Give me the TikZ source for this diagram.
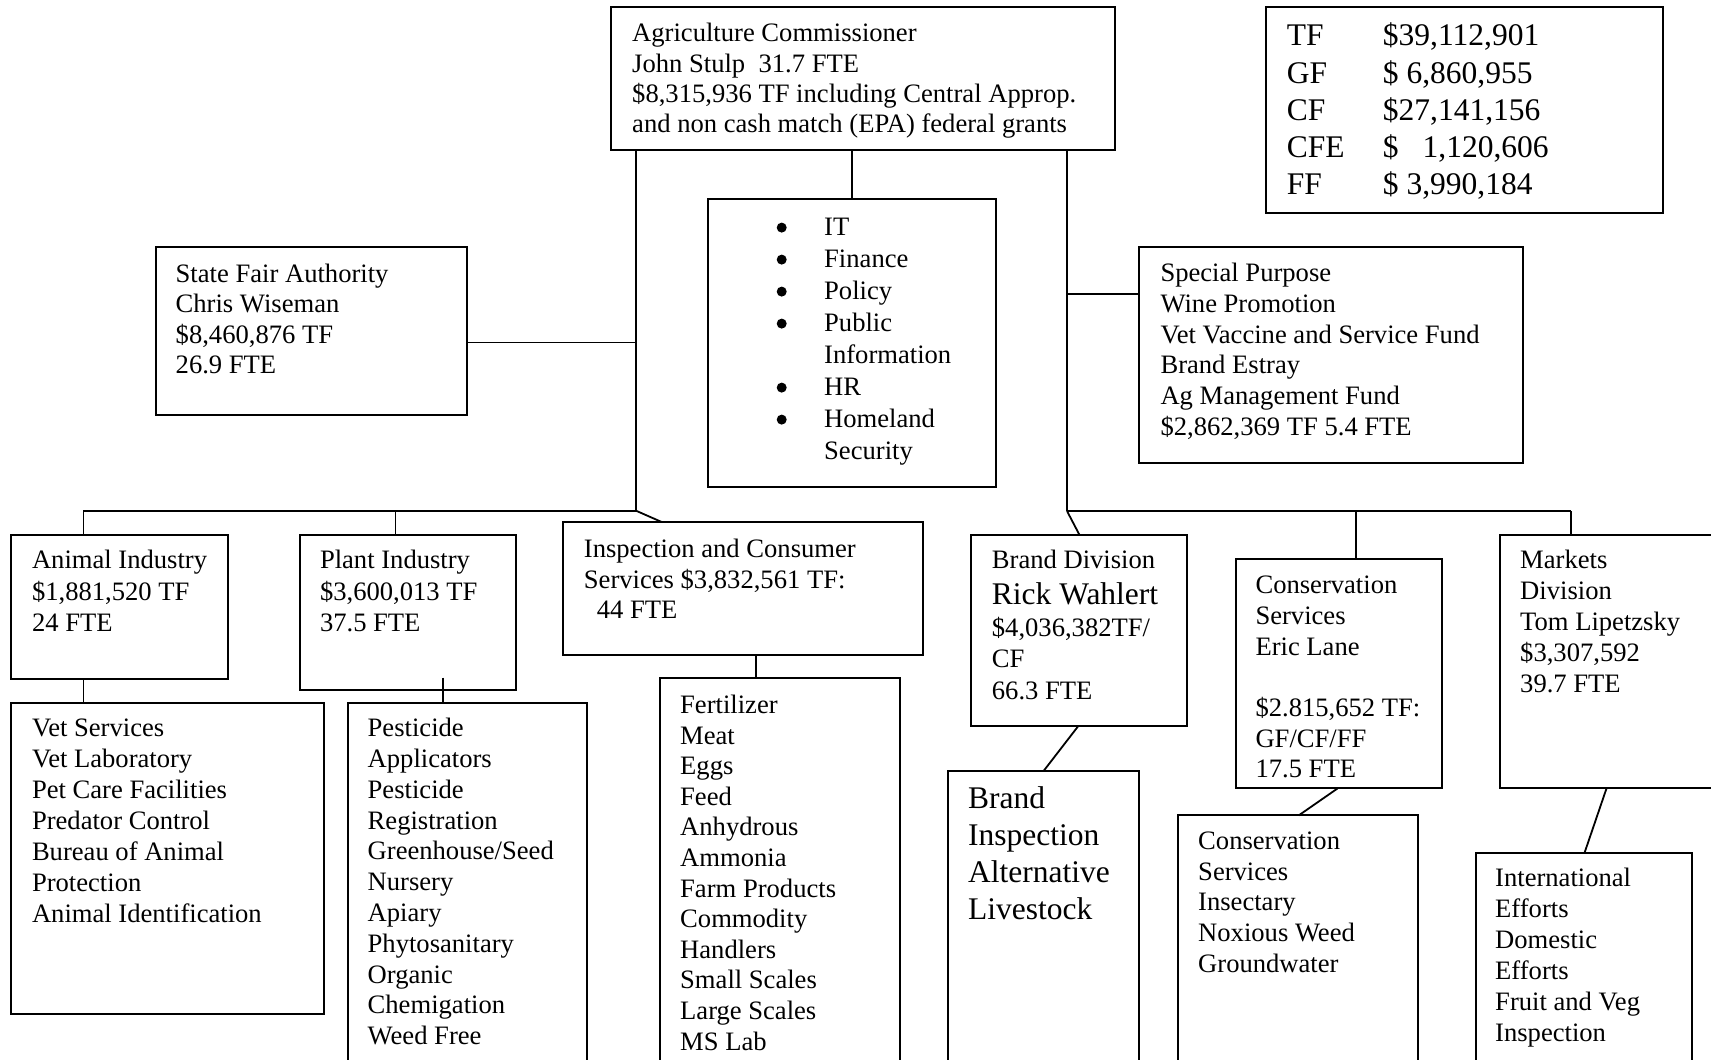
\documentclass[tikz,border=0pt]{standalone}
\usepackage{fontspec}
\setmainfont{Liberation Serif}
\newcommand\stra{\rule{0pt}{21pt}}
\newcommand\strb{\rule{0pt}{25pt}}
\newcommand\mybox[5]{\node[box, minimum width={(#4-#2)*1pt}, minimum height={(#5-#3)*1pt}] (#1) at (#2,#3) {};}
\begin{document}
\begin{tikzpicture}[x=1pt,y=-1pt,
  box/.style={draw, line width=2pt, anchor=north west, inner sep=0pt, outer sep=0pt},
  con/.style={line width=1.8pt},
  txt/.style={anchor=north west, inner sep=0pt, align=left, font=\fontsize{26.6}{#1}\selectfont},
  txt/.default=30.8,
  btxt/.style={anchor=north west, inner sep=0pt, align=left, font=\fontsize{31.5}{#1}\selectfont},
  btxt/.default=37.2]
\useasboundingbox (0,0) rectangle (1711,1060);
\fill[white] (0,0) rectangle (1711,1060);
\clip (0,0) rectangle (1711,1060);

% boxes
\mybox{comm}{611}{6.5}{1115}{150}
\mybox{totals}{1266}{6.5}{1663}{212.5}
\mybox{fair}{156}{246.8}{467.4}{414.5}
\mybox{it}{707.6}{198.8}{995.5}{486.8}
\mybox{special}{1139.4}{246.8}{1523.3}{462.5}
\mybox{animal}{11}{534.6}{227.6}{678.6}
\mybox{plant}{299.5}{534.6}{515.6}{690}
\mybox{insp}{563.4}{522}{923}{654.6}
\mybox{animsub}{11}{702.5}{323.6}{1014}
\mybox{plantsub}{347.8}{702.5}{587.3}{1080}
\mybox{inspsub}{660.3}{678}{900.4}{1080}
\mybox{brand}{971.4}{534.6}{1187}{726.4}
\mybox{brandsub}{947.5}{770.7}{1139.2}{1080}
\mybox{cons}{1235.5}{559}{1442}{788.4}
\mybox{conssub}{1178.2}{815.4}{1418}{1080}
\mybox{markets}{1499.5}{534.6}{1730}{788.4}
\mybox{marketsub}{1475.5}{852.9}{1691.6}{1080}

% texts
\node[txt=30.4] (tcomm) at (632,20.4) {\stra Agriculture Commissioner\\John Stulp\ \ 31.7 FTE\\\$8,315,936 TF including Central Approp.\\and non cash match (EPA) federal grants};
\node[btxt=37.2] (ttot1) at (1286.6,20.6) {\strb\makebox[96.1pt][l]{TF}\$39,112,901\\\makebox[96.1pt][l]{GF}\$ 6,860,955\\\makebox[96.1pt][l]{CF}\$27,141,156\\\makebox[96.1pt][l]{CFE}\$\hspace{24pt}1,120,606\\\makebox[96.1pt][l]{FF}\$ 3,990,184};
\node[txt=30.3] (tfair) at (175.5,261.3) {\stra State Fair Authority\\Chris Wiseman\\\$8,460,876 TF\\26.9 FTE};
\foreach \k in {0,1,2,3,5,6} \fill (781.7,{227.6+32*\k}) circle (5pt);
\node[txt=32] (tit) at (824,214.6) {\stra IT\\Finance\\Policy\\Public\\Information\\HR\\Homeland\\Security};
\node[txt=30.8] (tspec) at (1160.3,260.3) {\stra Special Purpose\\Wine Promotion\\Vet Vaccine and Service Fund\\Brand Estray\\Ag Management Fund\\\$2,862,369 TF 5.4 FTE};
\node[txt=31.2] (tanim) at (31.8,547.6) {\stra Animal Industry\\\$1,881,520 TF\\24 FTE};
\node[txt=31.2] (tplant) at (319.8,547.6) {\stra Plant Industry\\\$3,600,013 TF\\37.5 FTE};
\node[txt=30.8] (tinsp) at (583.7,536) {\stra Inspection and Consumer\\Services \$3,832,561 TF:\\\hspace*{13pt}44 FTE};
\node[txt=30.9] (tanimsub) at (31.8,715.4) {\stra Vet Services\\Vet Laboratory\\Pet Care Facilities\\Predator Control\\Bureau of Animal\\Protection\\Animal Identification};
\node[txt=30.8] (tplantsub) at (367.5,715.4) {\stra Pesticide\\Applicators\\Pesticide\\Registration\\Greenhouse/Seed\\Nursery\\Apiary\\Phytosanitary\\Organic\\Chemigation\\Weed Free};
\node[txt=30.6] (tinspsub) at (680,692.2) {\stra Fertilizer\\Meat\\Eggs\\Feed\\Anhydrous\\Ammonia\\Farm Products\\Commodity\\Handlers\\Small Scales\\Large Scales\\MS Lab};
\node[txt] (tbrand1) at (991.7,547.6) {\stra Brand Division};
\node[btxt] (tbrand2) at (991.7,579.3) {\strb Rick Wahlert};
\node[txt=31.2] (tbrand3) at (991.7,615.4) {\stra \$4,036,382TF/\\CF\\66.3 FTE};
\node[btxt=37.2] (tbrandsub) at (968,782.9) {\strb Brand\\Inspection\\Alternative\\Livestock};
\node[txt=30.65] (tcons) at (1255.3,572.6) {\stra Conservation\\Services\\Eric Lane\\\mbox{}\\\$2.815,652 TF:\\GF/CF/FF\\17.5 FTE};
\node[txt=30.7] (tconssub) at (1198,828.3) {\stra Conservation\\Services\\Insectary\\Noxious Weed\\Groundwater};
\node[txt=30.8] (tmark) at (1520,547.6) {\stra Markets\\Division\\Tom Lipetzsky\\\$3,307,592\\39.7 FTE};
\node[txt=30.9] (tmarksub) at (1495,865.4) {\stra International\\Efforts\\Domestic\\Efforts\\Fruit and Veg\\Inspection};

% junction coordinates
\coordinate (jL) at (636,510.7);
\coordinate (jR) at (1067,511);
\coordinate (xA) at (83.4,0);
\coordinate (xP) at (395.5,0);
\coordinate (xI) at (661.7,0);
\coordinate (xIT) at (852,0);
\coordinate (xB) at (1079.3,0);
\coordinate (xC) at (1355.8,0);
\coordinate (xM) at (1571,0);
\coordinate (pst) at (443,677.5);
\coordinate (xIS) at (756,0);
\coordinate (xBs) at (1078,0);
\coordinate (xBt) at (1043.8,0);
\coordinate (xCs) at (1337.6,0);
\coordinate (xCt) at (1298.7,0);
\coordinate (xMs) at (1606.5,0);
\coordinate (xMt) at (1584.5,0);
\coordinate (yF) at (0,342.5);
\coordinate (yS) at (0,294.1);

% connectors
\draw[con] (comm.south -| jL) -- (jL);
\draw[con] (comm.south -| jR) -- (jR);
\draw[con] (comm.south -| xIT) -- (it.north -| xIT);
\draw[con] (xA |- jL) -- (jL);
\draw[con] (xA |- jL) -- (animal.north -| xA);
\draw[con] (xP |- jL) -- (plant.north -| xP);
\draw[con] (jL) -- (insp.north -| xI);
\draw[con] (fair.east |- yF) -- (jL |- yF);
\draw[con] (special.west |- yS) -- (jR |- yS);
\draw[con] (jR) -- (xM |- jR);
\draw[con] (jR) -- (brand.north -| xB);
\draw[con] (xC |- jR) -- (cons.north -| xC);
\draw[con] (xM |- jR) -- (markets.north -| xM);
\draw[con] (animal.south -| xA) -- (animsub.north -| xA);
\draw[con] (pst) -- (plantsub.north -| pst);
\draw[con] (insp.south -| xIS) -- (inspsub.north -| xIS);
\draw[con] (brand.south -| xBs) -- (brandsub.north -| xBt);
\draw[con] (cons.south -| xCs) -- (conssub.north -| xCt);
\draw[con] (markets.south -| xMs) -- (marketsub.north -| xMt);
\end{tikzpicture}
\end{document}
